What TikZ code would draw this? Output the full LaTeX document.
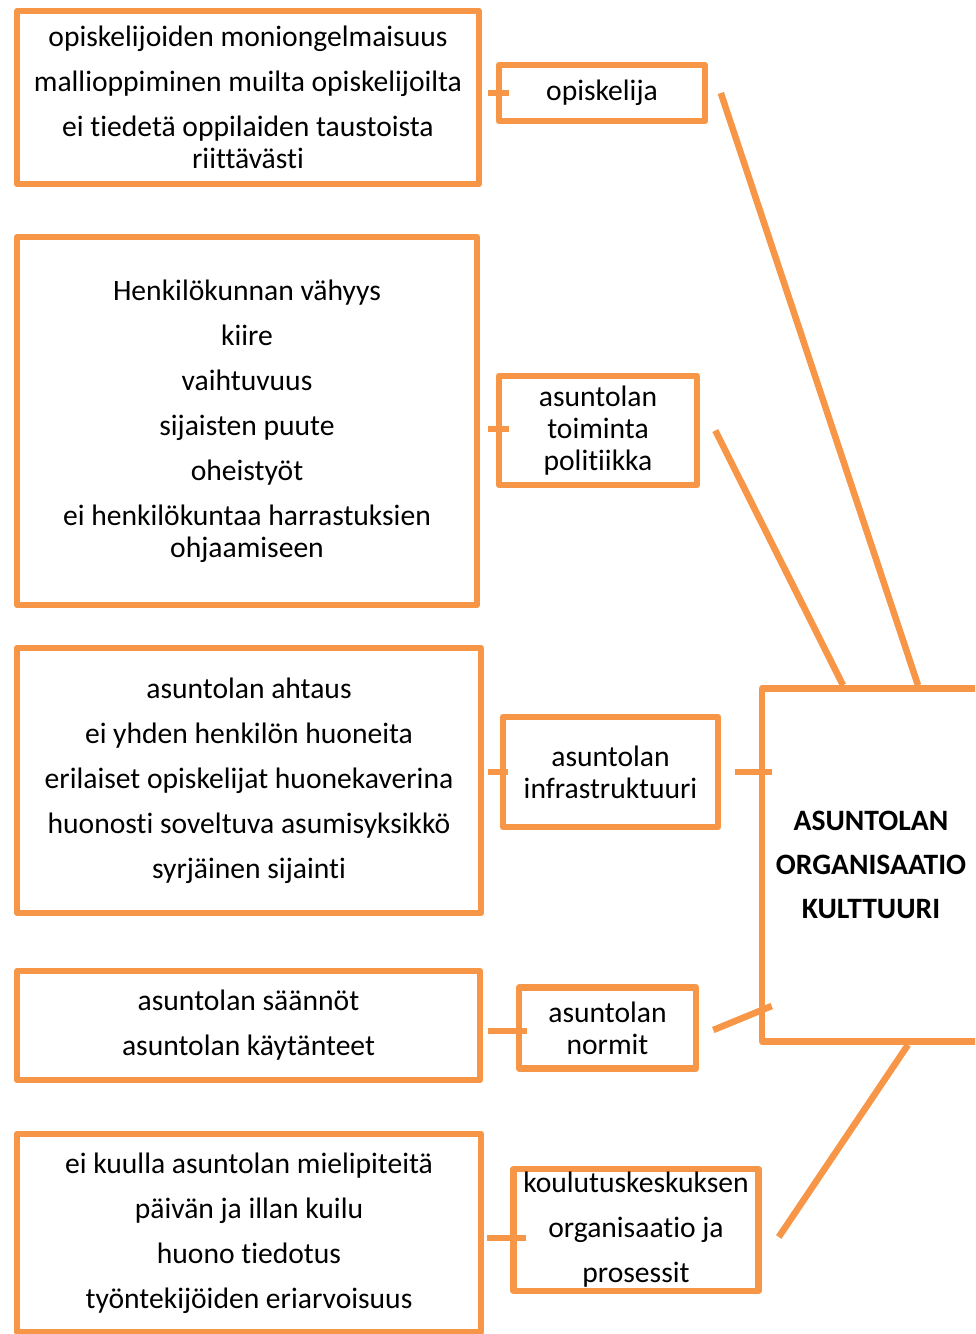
\documentclass[tikz,border=0pt]{standalone}
\usepackage{fontspec}
\setmainfont{Carlito}[RawFeature=-liga]
\usepackage{tikz}
\definecolor{oranssi}{HTML}{F79646}

\begin{document}
\begin{tikzpicture}[x=0.75pt,y=0.75pt,yscale=-1,xscale=1,
  laatikko/.style={draw=oranssi, line width=4.9pt, line join=round, inner sep=0pt, align=center, font=\fontsize{22.2}{24}\selectfont},
  viiva/.style={draw=oranssi, line width=4.9pt}]
\useasboundingbox (0,0) rectangle (975,1334);
\clip (0,0) rectangle (975,1334);

%Left boxes
\node [laatikko, minimum width=346.5pt, minimum height=129.75pt] (opiskelijat) at (248,97.5) {opiskelijoiden moniongelmaisuus\\[9.75pt]mallioppiminen muilta opiskelijoilta\\[9.75pt]ei tiedetä oppilaiden taustoista\\riittävästi};
\node [laatikko, minimum width=345pt, minimum height=276pt] (henkilokunta) at (247,421) {Henkilökunnan vähyys\\[9.75pt]kiire\\[9.75pt]vaihtuvuus\\[9.75pt]sijaisten puute\\[9.75pt]oheistyöt\\[9.75pt]ei henkilökuntaa harrastuksien\\ohjaamiseen};
\node [laatikko, minimum width=348pt, minimum height=198.75pt] (tilat) at (249,780.5) {asuntolan ahtaus\\[9.75pt]ei yhden henkilön huoneita\\[9.75pt]erilaiset opiskelijat huonekaverina\\[9.75pt]huonosti soveltuva asumisyksikkö\\[9.75pt]syrjäinen sijainti};
\node [laatikko, minimum width=347.25pt, minimum height=81.75pt] (saannot) at (248.5,1025.5) {asuntolan säännöt\\[9.75pt]asuntolan käytänteet};
\node [laatikko, minimum width=348pt, minimum height=148.5pt] (viestinta) at (249,1233) {ei kuulla asuntolan mielipiteitä\\[9.75pt]päivän ja illan kuilu\\[9.75pt]huono tiedotus\\[9.75pt]työntekijöiden eriarvoisuus};

%Middle boxes
\node [laatikko, minimum width=154.5pt, minimum height=42pt] (opiskelija) at (602,93) {opiskelija};
\node [laatikko, minimum width=148.5pt, minimum height=81.75pt] (politiikka) at (598,430.5) {asuntolan\\toiminta\\politiikka};
\node [laatikko, minimum width=161.25pt, minimum height=82.5pt] (infra) at (610.5,772) {asuntolan\\infrastruktuuri};
\node [laatikko, minimum width=132.75pt, minimum height=60.4pt] (normit) at (607.5,1028) {asuntolan\\normit};
\node [laatikko, minimum width=183.75pt, minimum height=91.5pt] (koulutus) at (636,1230) {koulutuskeskuksen\\[9.75pt]organisaatio ja\\[9.75pt]prosessit};

%Big box
\node [laatikko, minimum width=163.5pt, minimum height=264.75pt, font=\fontsize{22.2}{24}\selectfont\bfseries] (kulttuuri) at (871,865) {ASUNTOLAN\\[9pt]ORGANISAATIO\\[9pt]KULTTUURI};

%Stubs
\draw [viiva] ([xshift=-6pt]opiskelija.west) -- ([xshift=9.75pt]opiskelija.west);
\draw [viiva] ([xshift=-6pt,yshift=-1pt]politiikka.west) -- ([xshift=9.75pt,yshift=-1pt]politiikka.west);
\draw [viiva] ([xshift=-9pt]infra.west) -- ([xshift=6pt]infra.west);
\draw [viiva] ([xshift=-21pt,yshift=2.25pt]normit.west) -- ([xshift=8.25pt,yshift=2.25pt]normit.west);
\draw [viiva] ([xshift=-17.25pt,yshift=6pt]koulutus.west) -- ([xshift=12pt,yshift=6pt]koulutus.west);
\draw [viiva] ([xshift=10.5pt]infra.east) -- ([xshift=9.75pt,yshift=-69.75pt]kulttuuri.west);

%Straight Lines
\draw [viiva] ([xshift=9.4pt]opiskelija.east) -- ([xshift=35.25pt]kulttuuri.north);
\draw [viiva] ([xshift=11.25pt]politiikka.east) -- ([xshift=-21pt]kulttuuri.north);
\draw [viiva] ([xshift=10.5pt,yshift=1.5pt]normit.east) -- ([xshift=9.75pt,yshift=105.75pt]kulttuuri.west);
\draw [viiva] ([xshift=12.75pt,yshift=5.25pt]koulutus.east) -- ([xshift=27.75pt]kulttuuri.south);
\end{tikzpicture}
\end{document}
